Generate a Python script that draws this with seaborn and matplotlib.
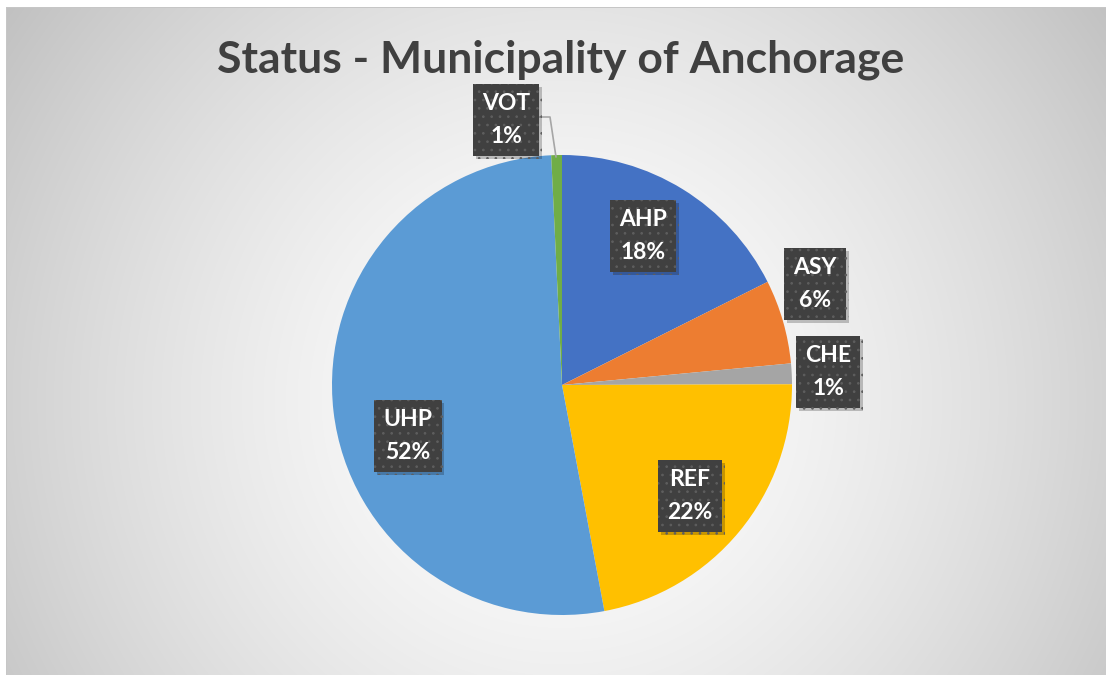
import numpy as np
import matplotlib
matplotlib.use("Agg")
import matplotlib.pyplot as plt
import matplotlib.patheffects as pe
import seaborn as sns

# data (share of cases, %)
categories = ["AHP", "ASY", "CHE", "REF", "UHP", "VOT"]
values = [17.6, 5.9, 1.45, 22.1, 52.2, 0.75]
label_pct = ["18%", "6%", "1%", "22%", "52%", "1%"]
colors = ["#4472C4", "#ED7D31", "#A5A5A5", "#FFC000", "#5B9BD5", "#70AD47"]

sns.set_style("white")
plt.rcParams["font.family"] = ["Lato", "DejaVu Sans"]
plt.rcParams["hatch.linewidth"] = 0.7

W, H = 1106, 675
fig = plt.figure(figsize=(W / 100, H / 100), dpi=100)
fig.patch.set_facecolor("white")

# radial gradient background of the chart area
bg = fig.add_axes([0, 0, 1, 1])
yy, xx = np.mgrid[0:H, 0:W]
d = np.hypot(xx - 561, yy - 400)
g = np.clip(255 - 58 * (d / 650) ** 1.5, 0, 255) / 255
img = np.dstack([g, g, g])
img[(xx < 6) | (yy < 7)] = 1.0
edge = ((xx == 6) & (yy >= 7)) | ((yy == 7) & (xx >= 6))
img[edge] = 0.78
bg.imshow(img, extent=[0, W, H, 0], interpolation="bilinear")
bg.set_axis_off()

# pie: centre (562, 385) px, radius 230 px
R = 230
ax = fig.add_axes([(562 - R) / W, (H - 385 - R) / H, 2 * R / W, 2 * R / H])
ax.pie(values, colors=colors, startangle=90, counterclock=False,
       radius=1, wedgeprops=dict(linewidth=0))
ax.set_xlim(-1, 1)
ax.set_ylim(-1, 1)
ax.set_axis_off()

# label box centres in pixels (Excel best-fit placement)
label_px = [(643, 236), (815, 284), (828, 372), (690, 496), (408, 436), (506, 120)]
for cat, pct, (px, py) in zip(categories, label_pct, label_px):
    t = ax.text((px - 562) / R, (385 - py) / R, f"{cat}\n{pct}",
                ha="center", va="center", color="white", fontsize=16.5,
                fontweight="bold", linespacing=1.7,
                bbox=dict(boxstyle="square,pad=0.4", facecolor="#404040",
                          edgecolor="#5e5e5e", linewidth=0, hatch=".."))
    t.get_bbox_patch().set_path_effects([
        pe.SimplePatchShadow(offset=(2, -2), shadow_rgbFace="black", alpha=0.22),
        pe.Normal()])

# leader line for VOT
lx = [(538 - 562) / R, (550 - 562) / R, (556 - 562) / R]
ly = [(385 - 117) / R, (385 - 117) / R, (385 - 157) / R]
ax.plot(lx, ly, color="#a6a6a6", linewidth=1.2, clip_on=False)

fig.text(561 / W, 1 - 60 / H, "Status - Municipality of Anchorage",
         ha="center", va="center", fontsize=32, fontweight="bold", color="#404040")

fig.savefig("out.png", dpi=100)
